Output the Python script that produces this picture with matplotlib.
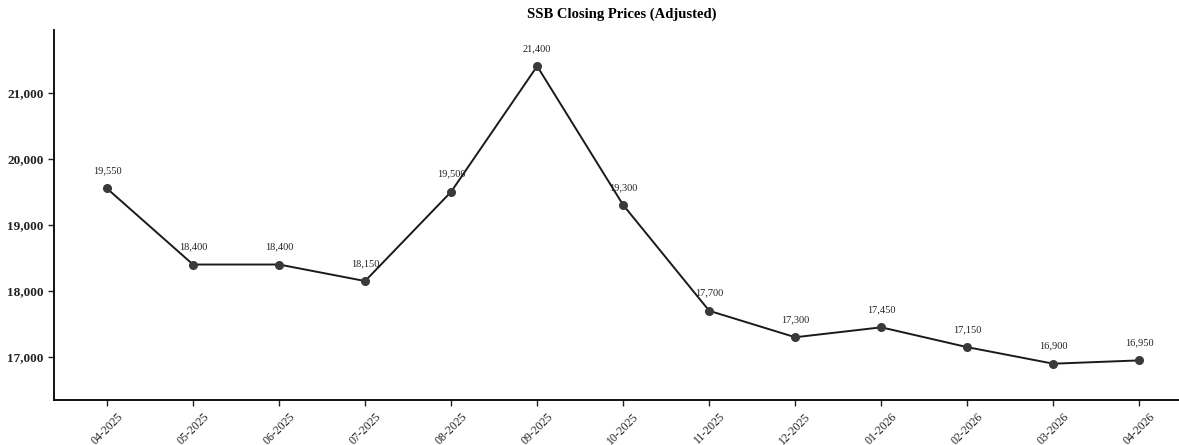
import matplotlib
matplotlib.use("Agg")
import matplotlib.pyplot as plt
from matplotlib.ticker import FuncFormatter

months = ["04-2025", "05-2025", "06-2025", "07-2025", "08-2025", "09-2025",
          "10-2025", "11-2025", "12-2025", "01-2026", "02-2026", "03-2026", "04-2026"]
prices = [19550, 18400, 18400, 18150, 19500, 21400, 19300, 17700, 17300,
          17450, 17150, 16900, 16950]
yticks = [17000, 18000, 19000, 20000, 21000]

plt.rcParams['font.family'] = ['Liberation Serif', 'DejaVu Serif']

fig = plt.figure(figsize=(11.79, 4.45), dpi=100)
ax = fig.add_axes([0.0458, 0.101, 0.96, 0.832])

x = list(range(len(months)))
ax.plot(x, prices, color='#1a1a1a', lw=1.4, marker='o', markersize=5.5,
        markerfacecolor='#3a3a3a', markeredgecolor='#3a3a3a', zorder=3)

for xi, p in zip(x, prices):
    ax.annotate(f"{p:,}", (xi, p), xytext=(0, 9.5), textcoords='offset points',
                ha='center', va='bottom', fontsize=7.5, color='#222222')

ax.set_xlim(-0.616, 12.54)
ax.set_ylim(16350, 21950)
ax.set_xticks(x)
ax.set_xticklabels(months, rotation=45, ha='center', fontsize=8.5)
ax.set_yticks(yticks)
ax.yaxis.set_major_formatter(FuncFormatter(lambda v, _: f"{int(v):,}"))
for lab in ax.get_yticklabels():
    lab.set_fontsize(9.5)
    lab.set_fontweight('bold')

ax.spines['top'].set_visible(False)
ax.spines['right'].set_visible(False)
ax.spines['left'].set_linewidth(1.3)
ax.spines['bottom'].set_linewidth(1.3)
ax.tick_params(axis='both', length=4, width=1.0, colors='#222222')

fig.text(0.527, 0.968, "SSB Closing Prices (Adjusted)", ha='center', va='center',
         fontsize=10.5, fontweight='bold')

fig.savefig("out.png", dpi=100)
